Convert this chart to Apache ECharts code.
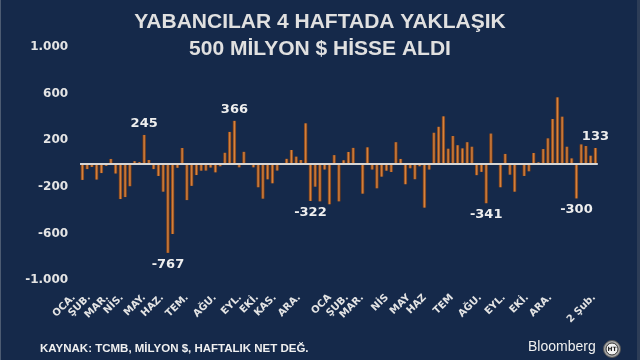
<!DOCTYPE html>
<html>
<head>
<meta charset="utf-8">
<script src="https://cdn.jsdelivr.net/npm/echarts@6/dist/echarts.min.js"></script>
<style>
html,body{margin:0;padding:0;background:#15294a;}
#chart{width:640px;height:360px;}
</style>
</head>
<body>
<div id="chart"></div>
<script>
// Weekly net foreign purchases of equities (million $), Jan year 1 .. 2 Feb year 3
const weeklyValues = [
  -141,-48,-30,-138,-82,-21,39,-86,-305,-288,
  -195,20,12,245,30,-48,-107,-242,-767,-605,
  -37,133,-314,-192,-99,-62,-61,-35,-76,-24,
  92,271,366,-33,100,-5,-33,-204,-302,-136,
  -170,-61,-3,40,116,59,30,345,-322,-199,
  -325,-52,-350,72,-325,28,99,134,4,-259,
  139,-52,-213,-113,-62,-73,183,39,-178,-41,
  -135,-24,-379,-52,264,315,405,127,236,157,
  130,183,144,-100,-72,-341,257,-3,-204,82,
  -96,-242,-2,-107,-67,90,10,124,216,382,
  568,402,144,44,-300,164,150,67,133
];
// weeks (0-based) whose value is printed
const labeledWeeks = [13, 18, 32, 48, 85, 104, 108];
// month tick labels and their place on the week axis
const tickLabels = ['OCA.','ŞUB.','MAR.','NİS.','MAY.','HAZ.','TEM.','AĞU.','EYL.','EKİ.','KAS.','ARA.',
                    'OCA','ŞUB.','MAR.','NİS','MAY','HAZ','TEM','AĞU.','EYL.','EKİ.','ARA.','2 Şub.'];
const tickWeeks = [-1.8,1.4,5.2,8.3,13.0,16.8,22.0,27.9,33.2,36.8,40.5,45.6,
                   52.1,55.7,58.9,64.1,68.7,72.1,77.8,83.7,88.7,93.6,98.5,107.7];
const yTickValues = [-1000,-600,-200,200,600,1000];

const titleText = 'YABANCILAR 4 HAFTADA YAKLAŞIK\n500 MİLYON $ HİSSE ALDI';
const sourceText = 'KAYNAK: TCMB, MİLYON $, HAFTALIK NET DEĞ.';

const chart = echarts.init(document.getElementById('chart'), null, {renderer:'canvas'});

const lastWeek = weeklyValues.length - 1;
const seriesData = weeklyValues.map((v, i) => {
  const item = {value: [i, v]};
  if (labeledWeeks.indexOf(i) >= 0) {
    item.label = {show: true, position: v >= 0 ? 'top' : 'bottom'};
  }
  return item;
});

function fmtThousands(v) {
  const s = Math.abs(v).toString().replace(/\B(?=(\d{3})+(?!\d))/g, '.');
  return (v < 0 ? '-' : '') + s;
}

const barGradient = {
  type: 'linear', x: 0, y: 0, x2: 1, y2: 0,
  colorStops: [
    {offset: 0, color: '#6a3413'},
    {offset: 0.5, color: '#dc8640'},
    {offset: 1, color: '#6a3413'}
  ]
};

chart.setOption({
  backgroundColor: '#15294a',
  animation: false,
  title: {
    text: titleText,
    left: 'center',
    top: 4,
    textStyle: {
      color: '#e0e0e0',
      fontFamily: 'Liberation Sans',
      fontWeight: 'bold',
      fontSize: 21,
      lineHeight: 27
    }
  },
  grid: {left: 68.15, right: 42.2, top: 47, bottom: 80, containLabel: false},
  xAxis: {
    type: 'value',
    min: -3,
    max: lastWeek + 0.5,
    axisLine: {show: false},
    axisTick: {show: false},
    splitLine: {show: false},
    axisLabel: {
      customValues: tickWeeks,
      rotate: 45,
      margin: 16,
      color: '#e4e4e4',
      fontFamily: 'DejaVu Sans',
      fontWeight: 'bold',
      fontSize: 10,
      hideOverlap: false,
      formatter: function (v) {
        for (let k = 0; k < tickWeeks.length; k++) {
          if (Math.abs(tickWeeks[k] - v) < 1e-6) return tickLabels[k];
        }
        return '';
      }
    }
  },
  yAxis: {
    type: 'value',
    min: -1000,
    max: 1000,
    interval: 200,
    axisLine: {show: false},
    axisTick: {show: false},
    splitLine: {show: false},
    axisLabel: {
      margin: 0,
      color: '#e4e4e4',
      fontFamily: 'DejaVu Sans',
      fontWeight: 'bold',
      fontSize: 12,
      formatter: function (v) {
        return yTickValues.indexOf(v) >= 0 ? fmtThousands(v) : '';
      }
    }
  },
  series: [{
    type: 'bar',
    data: seriesData,
    barWidth: 3.4,
    itemStyle: {color: barGradient},
    label: {
      show: false,
      color: '#eeeeee',
      fontFamily: 'DejaVu Sans',
      fontWeight: 'bold',
      fontSize: 13,
      distance: 5,
      formatter: function (p) { return String(p.value[1]); }
    },
    markLine: {
      silent: true,
      symbol: 'none',
      label: {show: false},
      lineStyle: {color: '#d6d6d6', width: 2, type: 'solid'},
      data: [[{coord: [-0.5, 0]}, {coord: [lastWeek + 0.5, 0]}]]
    }
  }],
  graphic: [
    {type: 'rect', left: 0, top: 0, shape: {width: 1, height: 360}, style: {fill: '#4c5b72'}},
    {type: 'rect', left: 637, top: 0, shape: {width: 3, height: 360}, style: {fill: '#2d3d57'}},
    {type: 'text', left: 40, top: 343,
     style: {text: sourceText, fill: '#f0f0f0', font: 'bold 11.5px "Liberation Sans"'}},
    {type: 'text', left: 528, top: 340,
     style: {text: 'Bloomberg', fill: '#f0f0f0', font: '14px "Liberation Sans"'}},
    {type: 'circle', shape: {cx: 612, cy: 349, r: 8.5}, style: {fill: '#a8a8a8', stroke: '#555', lineWidth: 1}},
    {type: 'circle', shape: {cx: 612, cy: 349, r: 6}, style: {fill: '#f2f2f2', stroke: '#333', lineWidth: 1}},
    {type: 'text', x: 612, y: 349,
     style: {text: 'HT', fill: '#222', font: 'bold 6px "DejaVu Sans"', align: 'center', verticalAlign: 'middle'}}
  ]
});
</script>
</body>
</html>
